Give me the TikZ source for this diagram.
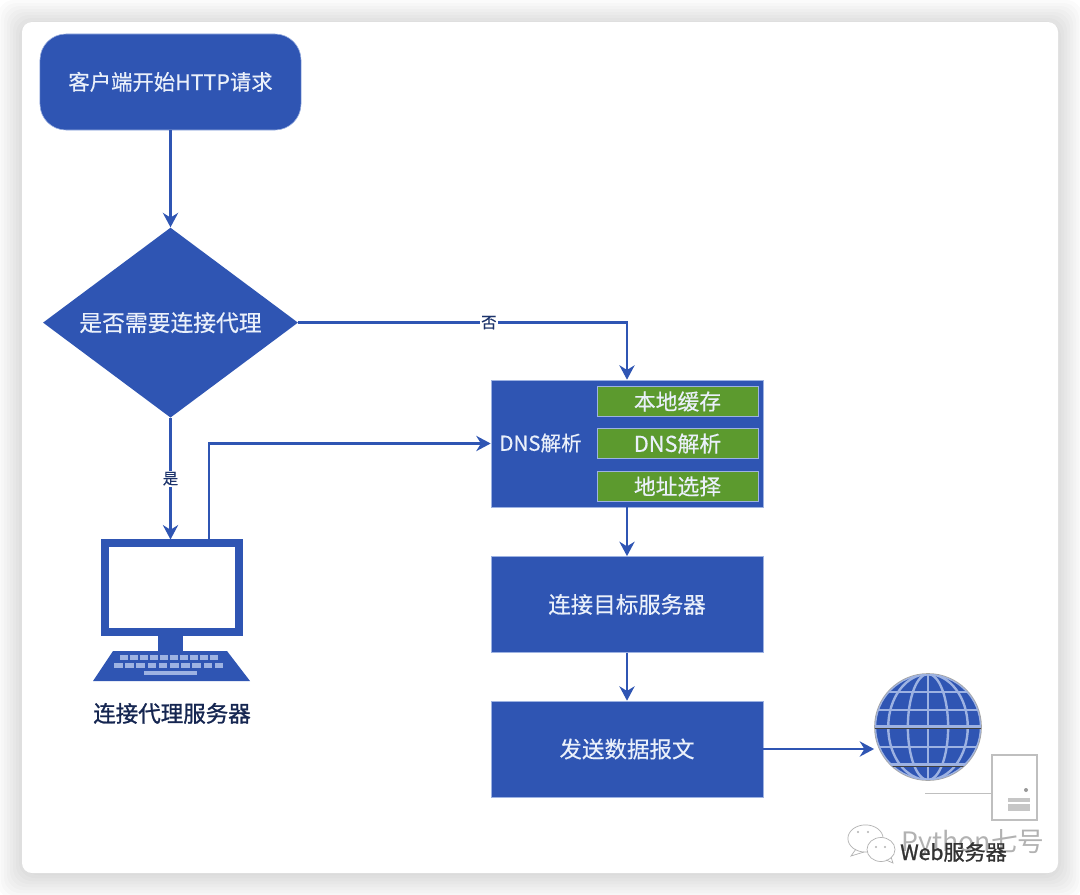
\documentclass[tikz,border=0pt]{standalone}
\usepackage{fontspec}
\setmainfont{Noto Sans CJK SC}
\newfontfamily\boxfont[FakeBold=0.35]{Noto Sans CJK SC}
\newfontfamily\darkfont[FakeBold=1.1]{Noto Sans CJK SC}
\usepackage{amsmath}
\usetikzlibrary{arrows.meta, positioning, shapes.geometric}

\definecolor{flowblue}{HTML}{2F55B3}
\definecolor{flowgreen}{HTML}{5C9A2E}
\definecolor{edgeblue}{HTML}{9DB2E2}
\definecolor{paletext}{HTML}{EAF0FA}

\begin{document}
\begin{tikzpicture}[x=0.025cm, y=-0.025cm]
	\tikzset {>={Stealth[length=0.36cm, width=0.38cm]}, node distance=1.2cm,
		flow/.style={->, draw=flowblue, line width=0.065cm},
		flowbox/.style={fill=flowblue, draw=edgeblue, line width=0.4pt, text=paletext, font=\boxfont\fontsize{16}{18}\selectfont, inner sep=0pt, minimum width=6.8cm, minimum height=2.4cm},
		subbox/.style={fill=flowgreen, draw=edgeblue, line width=0.6pt, text=paletext, font=\boxfont\fontsize{15.5}{18}\selectfont, inner sep=0pt, minimum width=4.025cm, minimum height=0.75cm},
		branch/.style={fill=white, inner sep=1pt, text=flowblue!60!black, font=\boxfont\fontsize{11}{13}\selectfont}
	}

	% page and card
	\useasboundingbox (0,0) rectangle (1080,895);
	\fill[white] (0,0) rectangle (1080,895);
	\foreach \r in {24,21,...,0}
		\fill[black, opacity=0.014, rounded corners=0.4cm] (22-\r,24-\r) rectangle (1058+\r,875+\r);
	\fill[white, rounded corners=0.25cm] (22,22) rectangle (1058,873);

	% flow nodes
	\node[flowbox, minimum width=6.525cm, rounded corners=0.65cm, font=\boxfont\fontsize{15.2}{18}\selectfont] (start) at (170.5,82) {\raisebox{1.5pt}{客户端开始HTTP请求}};
	\node[diamond, fill=flowblue, text=paletext, font=\boxfont\fontsize{16.2}{18}\selectfont, inner sep=0pt, aspect=1.34, minimum width=6.375cm, minimum height=4.75cm, below=2.425cm of start] (proxyask) {是否需要连接代理};

	\node[flowbox, minimum height=3.175cm] (dns) at (627,443.5) {};
	\node[text=paletext, font=\boxfont\fontsize{14.6}{18}\selectfont, inner sep=0pt] (dnslabel) at (540.5,443) {DNS解析};
	\node[subbox] (cache) at (677.5,401.5) {本地缓存};
	\node[subbox, below=0.28cm of cache] (lookup) {DNS解析};
	\node[subbox, below=0.3cm of lookup] (select) {地址选择};

	\node[flowbox, below=1.22cm of dns] (connect) {连接目标服务器};
	\node[flowbox, below=of connect] (send) {发送数据报文};

	% proxy computer
	\node[draw=flowblue, fill=white, line width=0.2cm, minimum width=3.35cm, minimum height=2.2cm, inner sep=0pt] (monitor) at (172,587.5) {};
	\fill[flowblue] (158,636) rectangle (183,651);
	\fill[flowblue] (113,651) -- (227,651) -- (250,681) -- (93,681) -- cycle;
	\foreach \k in {0,...,9} {
		\fill[edgeblue] (120+\k*10,655) rectangle +(7.5,4.5);
		\fill[edgeblue] (114+\k*11.2,663) rectangle +(8.5,4.5);
	}
	\fill[edgeblue] (144,671) rectangle (197,675);
	\node[text=flowblue!45!black, font=\darkfont\fontsize{16}{18}\selectfont, inner sep=0pt, below=0.6cm of monitor.south, yshift=-1.08cm] (proxylabel) {连接代理服务器};

	% globe
	\node[circle, fill=flowblue, draw=gray!70, line width=1.2pt, minimum size=2.65cm, inner sep=0pt] (globe) at (928,727) {};
	\begin{scope}
		\clip (928,727) circle (1.325cm);
		\foreach \w in {0.38,0.75,1.0}
			\draw[edgeblue, line width=1.7pt] (928,727) ellipse ({\w*1.325cm} and 1.325cm);
		\draw[edgeblue, line width=1.7pt] (928,674) -- (928,780);
		\foreach \h in {692,710,747}
			\draw[edgeblue, line width=1.7pt] (870,\h) -- (986,\h);
		\foreach \h in {728,766} {
			\draw[edgeblue, line width=1.7pt] (870,\h-1.5) -- (986,\h-1.5);
			\draw[black!75, line width=0.7pt] (870,\h) -- (986,\h);
		}
	\end{scope}

	% web server
	\node[draw=gray!50, fill=white, line width=0.9pt, minimum width=1.125cm, minimum height=1.625cm, inner sep=0pt] (server) at (1014.5,787.5) {};
	\coordinate (serverend) at (925,793);
	\draw[gray!50, line width=0.7pt] (serverend) -- (server.west |- serverend);
	\fill[gray!80] (1026,790) circle (0.05cm);
	\fill[gray!45] (1008,798) rectangle (1030,802);
	\fill[gray!45] (1008,804) rectangle (1030,811);

	% watermark
	\node[text=gray!60, font=\fontsize{19}{22}\selectfont, inner sep=0pt] (mark) at (973,844) {Python七号};
	\node[text=black!80, font=\darkfont\fontsize{15}{18}\selectfont, inner sep=0pt] (weblabel) at (953.5,852) {Web服务器};
	\draw[gray!60, fill=white, line width=0.5pt] (865.5,838.5) ellipse (0.44cm and 0.34cm);
	\draw[gray!60, line width=0.5pt] (856,849) -- (851,856) -- (864,852);
	\draw[gray!60, fill=white, line width=0.5pt] (881,849.5) ellipse (0.35cm and 0.3cm);
	\draw[gray!60, line width=0.5pt] (886,860) -- (893,863) -- (891,857);
	\foreach \e in {(858,832),(868,832),(876,847),(885,847)}
		\fill[gray!60] \e circle (0.03cm);

	% connectors
	\draw[flow] (start) -- (proxyask);
	\draw[flow] (proxyask.east) -| node[branch, pos=0.29] (nolabel) {否} (dns.north);
	\draw[flow] (proxyask.south) -- node[branch] (yeslabel) {是} (monitor.north -| proxyask.south);
	\coordinate (proxyout) at (209,540);
	\draw[flow] (proxyout) |- (dns.west);
	\draw[flow] (dns) -- (connect);
	\draw[flow] (connect) -- (send);
	\draw[flow] (send.east) -- (send.east -| globe.west);
\end{tikzpicture}
\end{document}
